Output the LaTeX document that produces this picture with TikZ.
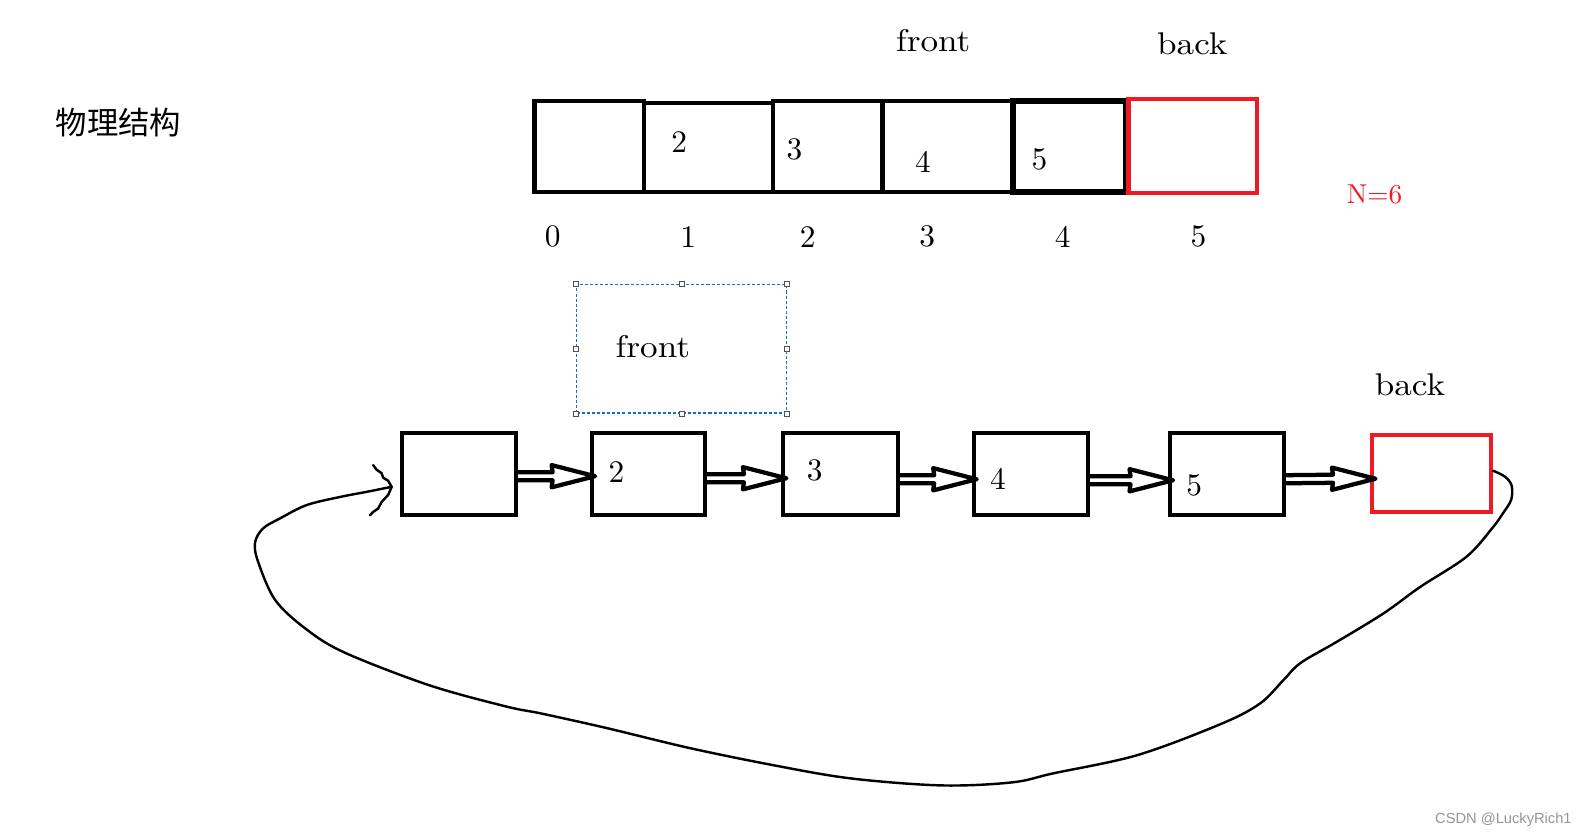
\documentclass[tikz,border=0pt]{standalone}
\usepackage{fontspec}
\newfontfamily\cjk{Noto Sans CJK SC}
\newfontfamily\wmfont{Liberation Sans}
\newfontfamily\lmten{lmroman10-regular.otf}
\newfontfamily\lmwide{lmroman10-regular.otf}[FakeStretch=1.12]
\usetikzlibrary{calc}
\definecolor{redbox}{RGB}{237,28,36}
\definecolor{selblue}{RGB}{20,110,210}
\definecolor{handlegray}{RGB}{80,80,80}
\definecolor{wmgray}{RGB}{150,150,150}
\tikzset{
  txt/.style={inner sep=0pt, font=\lmten\fontsize{31}{38}\selectfont},
  word/.style={inner sep=0pt, font=\lmwide\fontsize{31}{38}\selectfont},
  cell/.style={draw=black, line width=4.2pt, inner sep=0pt, minimum height=90pt},
  redcell/.style={draw=redbox, line width=4.2pt, inner sep=0pt},
  lbox/.style={draw=black, line width=4pt, inner sep=0pt, minimum width=113pt, minimum height=81pt},
  selbox/.style={draw=selblue, line width=1.1pt, dash pattern=on 3pt off 2pt, inner sep=0pt},
  handle/.style={draw=handlegray, fill=white, line width=0.9pt, inner sep=0pt, minimum size=5pt},
  arrowline/.style={draw=black, line width=4.2pt, line join=round, line cap=round},
  loopline/.style={draw=black, line width=2.4pt, line join=round, line cap=round}
}
\newcommand\dblarrow[3]{%
  \draw[arrowline] ($(#1.east)+(0,#3-4)$) -- ($(#2.west)+(-37,#3-4)$)
    -- ($(#2.west)+(-38,#3-11)$) -- ($(#2.west)+(5,#3)$)
    -- ($(#2.west)+(-38,#3+11)$) -- ($(#2.west)+(-37,#3+4)$)
    -- ($(#1.east)+(0,#3+4)$);}
\begin{document}
\begin{tikzpicture}[x=1pt,y=-1pt]
\useasboundingbox[fill=white] (0,0) rectangle (1568,828);

% title
\node[inner sep=0pt, font=\cjk\fontsize{31}{36}\selectfont] (title) at (117,121) {物理结构};

% top labels
\node[word] (tfront) at (922,40) {front};
\node[word] (tback) at (1178,43) {back};
\node[inner sep=0pt, text=redbox, font=\lmten\fontsize{27}{33}\selectfont] (nsize) at (1358,192) {N=6};

% top array
\node[cell, minimum width=108pt] (c0) at (582,145) {};
\node[cell, minimum width=128pt, minimum height=88pt] (c1) at (700,146) {};
\node[cell, minimum width=108pt] (c2) at (818,145) {};
\node[cell, minimum width=129pt] (c3) at (936.5,145) {};
\node[cell, minimum width=112pt, line width=6pt] (c4) at (1057,145) {};
\node[redcell, minimum width=127pt, minimum height=93pt] (c5) at (1178.5,144.5) {};

\node[txt] (v1) at (671,140) {2};
\node[txt] (v2) at (785,148) {3};
\node[txt] (v3) at (912,160) {4};
\node[txt] (v4) at (1027,157) {5};

\node[txt] (i0) at (546,234) {0};
\node[txt] (i1) at (680,234) {1};
\node[txt] (i2) at (798,234) {2};
\node[txt] (i3) at (916,234) {3};
\node[txt] (i4) at (1050,234) {4};
\node[txt] (i5) at (1184,234) {5};

% selection box with front
\node[selbox, minimum width=207pt, minimum height=127pt] (sel) at (673.5,344.5) {};
\node[word] (bfront) at (645,342) {front};
\foreach \a in {north west,north,north east,west,east,south west,south,south east}
  \node[handle] at (sel.\a) {};

% bottom back label
\node[word] (bback) at (1393,380) {back};

% linked boxes
\node[lbox] (b0) at (453.5,468.5) {};
\node[lbox, minimum width=112pt] (b1) at (641,468.5) {};
\node[lbox] (b2) at (830.5,468.5) {};
\node[lbox] (b3) at (1018.5,468.5) {};
\node[lbox] (b4) at (1212.5,468.5) {};
\node[redcell, line width=4pt, minimum width=117pt, minimum height=76pt] (b5) at (1414.5,468) {};

\node[txt] (n1) at (609,466) {2};
\node[txt] (n2) at (805,465) {3};
\node[txt] (n3) at (986,473) {4};
\node[txt] (n4) at (1180,480) {5};

\dblarrow{b0}{b1}{2}
\dblarrow{b1}{b2}{4}
\dblarrow{b2}{b3}{5}
\dblarrow{b3}{b4}{6}
\dblarrow{b4}{b5}{5}

% loop back
\coordinate (loopstart) at ($(b5.east)+(0,-3)$);
\coordinate (loopend) at ($(b0.west)+(-8,12.5)$);
\draw[loopline] plot[smooth, tension=0.55] coordinates {
 (loopstart) (1487,471) (1493.6,480) (1493,494) (1485,507) (1475,521)
 (1449,550) (1403,580) (1367,606) (1321,634) (1285,655) (1268,672)
 (1245,695) (1207,715) (1124,746) (1041,764) (1000,773) (930,776)
 (840,769) (764,756) (681,739) (598,719) (535,705) (500,698) (424,677)
 (341,645) (303,622) (272,593) (255,555) (252,536) (260,522) (277,512)
 (303,499) (336,491) (362,486) (382,482) (loopend)};
\draw[loopline] (368.7,459.5) -- (372,464) -- (377,467.5) -- (378.6,472)
 -- (383.5,475) -- (loopend) -- (383.5,489) -- (377,496) -- (373.6,502.5)
 -- (368.7,505.8) -- (365.6,509);

% watermark
\node[anchor=east, inner sep=0pt, text=wmgray, font=\wmfont\fontsize{14.5}{17}\selectfont] (wm) at (1553,810) {CSDN @LuckyRich1};
\end{tikzpicture}
\end{document}
